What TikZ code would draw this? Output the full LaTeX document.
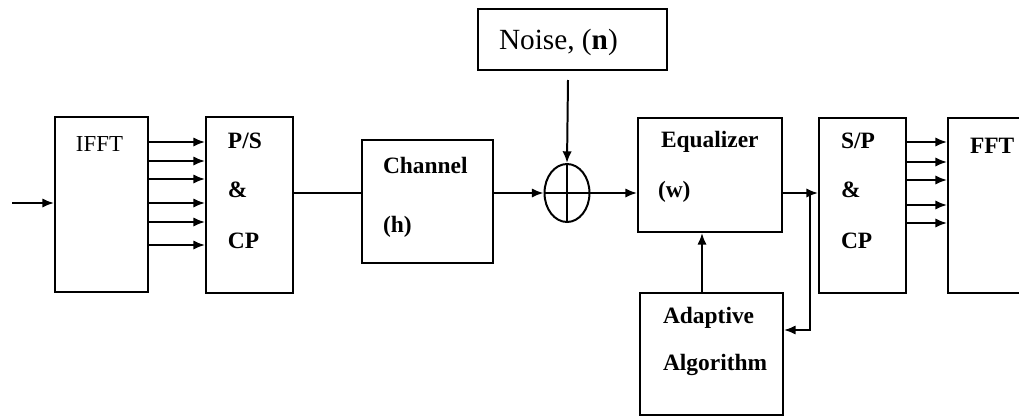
\documentclass[tikz,border=0pt]{standalone}
\usepackage{fontspec}
\setmainfont{Liberation Serif}
\usetikzlibrary{arrows.meta,shapes.geometric}

\begin{document}
\begin{tikzpicture}[x=0.03cm, y=-0.03cm,
  line width=1.7pt,
  blk/.style args={#1/#2}{draw, rectangle, inner sep=0pt,
      minimum width={#1*0.03cm}, minimum height={#2*0.03cm}},
  lbl/.style={anchor=base west, inner sep=0pt,
      font=\fontsize{20}{22}\selectfont\bfseries},
  plain/.style={anchor=base west, inner sep=0pt,
      font=\fontsize{19.5}{22}\selectfont},
  sig/.style={-{Latex[length=10pt,width=8pt]}},
  wire/.style={-}]

\useasboundingbox (0,0) rectangle (1019,417);
\clip (0,0) rectangle (1019,417);

% blocks
\node[blk=93/175]  (ifft)  at (101.5,204.5) {};
\node[blk=87/176]  (ps)    at (249.5,205)   {};
\node[blk=131/123] (chan)  at (427.5,201.5) {};
\node[blk=189/61]  (noise) at (572.5,39.5)  {};
\node[draw, ellipse, inner sep=0pt, minimum width={45*0.03cm},
      minimum height={58*0.03cm}] (sum) at (567,193) {};
\node[blk=144/114] (eq)    at (710,175)     {};
\node[blk=143/122] (adapt) at (711.5,354)   {};
\node[blk=87/175]  (sp)    at (862.5,205.5) {};
\node[blk=82/175]  (fft)   at (989,205.5)   {};

% summing junction cross
\draw (sum.north) -- (sum.south);
\draw (sum.west) -- (sum.east);

% labels
\node[plain] (tifft) at (75,151) {IFFT};
\node[lbl] (tps1) at (227,148) {P/S};
\node[lbl] (tps2) at (227,197) {\&};
\node[lbl] (tps3) at (227,248) {CP};
\node[lbl] (tch1) at (382,173) {Channel};
\node[lbl] (tch2) at (382,232) {(h)};
\node[anchor=base west, inner sep=0pt, font=\fontsize{25}{27}\selectfont]
      (tnoise) at (498,49) {Noise, (\textbf{n})};
\node[lbl] (teq1) at (660,147) {Equalizer};
\node[lbl] (teq2) at (657,197) {(w)};
\node[lbl] (tsp1) at (840,148) {S/P};
\node[lbl] (tsp2) at (840,197) {\&};
\node[lbl] (tsp3) at (840,248) {CP};
\node[lbl] (tfft) at (969,153) {FFT};
\node[lbl] (tad1) at (662,323) {Adaptive};
\node[lbl] (tad2) at (662,370) {Algorithm};

% input
\coordinate (in) at (12,203);
\draw[sig] (in) -- (ifft.west |- in);

% parallel outputs of the IFFT
\foreach \yy in {142,161,179,203,222,245}
  \draw[sig] (ifft.east |- 0,\yy) -- (ps.west |- 0,\yy);

% serial path
\draw[wire] (ps.east |- 0,193) -- (chan.west |- 0,193);
\draw[sig] (chan.east |- 0,193) -- (sum.west);
\coordinate (ntop) at (568,80);
\draw[sig] (ntop) -- (sum.north);
\draw[sig] (sum.east) -- (eq.west |- 0,193);

% equalizer output and feedback to the adaptive algorithm
\coordinate (br) at (810,193);
\coordinate (fb) at (810,330);
\draw[sig] (eq.east |- br) -- (sp.west |- br);
\draw[sig] (br) -- (fb) -- (adapt.east |- fb);
\draw[sig] (adapt.north -| 702,0) -- (eq.south -| 702,0);

% parallel inputs of the FFT
\foreach \yy in {142,162,180,205,223}
  \draw[sig] (sp.east |- 0,\yy) -- (fft.west |- 0,\yy);

\end{tikzpicture}
\end{document}
